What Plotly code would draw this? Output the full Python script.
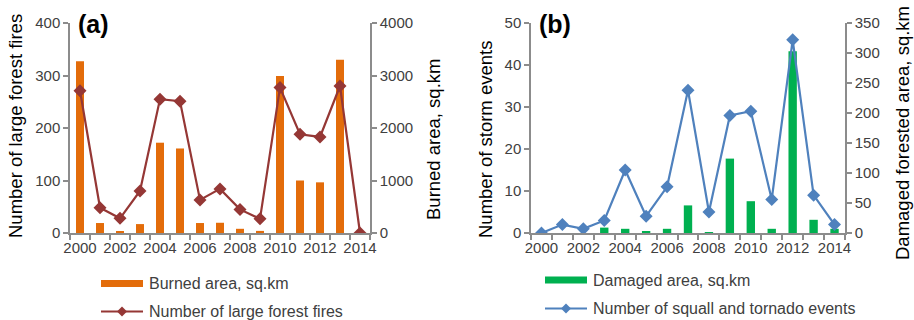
import plotly.graph_objects as go

# ---- data ---------------------------------------------------------------
years = list(range(2000, 2015))

# (a) forest fires
burned_area = [3270, 190, 30, 170, 1720, 1610, 190, 195, 80, 40, 2990, 1000, 965, 3300, 0]
large_fires = [271, 48, 28, 80, 255, 251, 63, 84, 45, 27, 277, 188, 183, 280, 0]

# (b) storms
damaged_area = [0, 0, 0, 9, 7, 3, 7, 46, 1, 124, 53, 7, 303, 22, 7]
storm_events = [0, 2, 1, 3, 15, 4, 11, 34, 5, 28, 29, 8, 46, 9, 2]

year_labels = [str(y) for y in range(2000, 2015, 2)]

legend_a = ["Burned area, sq.km", "Number of large forest fires"]
legend_b = ["Damaged area, sq.km", "Number of squall and tornado events"]

ORANGE = "#E36C0A"
DARKRED = "#953735"
GREEN = "#00B050"
BLUE = "#4F81BD"
AXIS = "#8C8C8C"
FONT = "Liberation Sans, Arial"
TICKFONT = dict(family=FONT, size=15, color="#404040")

W, H = 914, 320


def px(x):
    return x / W


def py(y):
    return (H - y) / H


fig = go.Figure()

# ---- panel (a): bars on the right-hand axis, line on the left-hand one ----
fig.add_trace(go.Bar(x=years, y=burned_area, width=0.4, marker_color=ORANGE,
                     marker_line_width=0, xaxis="x", yaxis="y", name=legend_a[0]))
fig.add_trace(go.Scatter(x=years, y=large_fires, mode="lines+markers", name=legend_a[1],
                         line=dict(color=DARKRED, width=2.2),
                         marker=dict(symbol="diamond", size=10, color=DARKRED),
                         xaxis="x", yaxis="y2"))

# ---- panel (b) -----------------------------------------------------------
fig.add_trace(go.Bar(x=years, y=damaged_area, width=0.4, marker_color=GREEN,
                     marker_line_width=0, xaxis="x2", yaxis="y3", name=legend_b[0]))
fig.add_trace(go.Scatter(x=years, y=storm_events, mode="lines+markers", name=legend_b[1],
                         line=dict(color=BLUE, width=2.2),
                         marker=dict(symbol="diamond", size=10, color=BLUE),
                         xaxis="x2", yaxis="y4"))


def xaxis(domain, anchor):
    return dict(domain=domain, anchor=anchor, range=[1999.5, 2014.5],
                tickmode="array", tickvals=list(range(2000, 2015, 2)),
                ticktext=year_labels, ticks="", tickfont=TICKFONT,
                showline=True, linecolor=AXIS, linewidth=1.5, showgrid=False,
                zeroline=False, fixedrange=True, automargin=False,
                minor=dict(tick0=1999.5, dtick=1, ticks="outside", ticklen=5,
                           tickcolor=AXIS, tickwidth=1.5, showgrid=False))


def yaxis(side, rng, dtick, anchor, overlaying=None):
    d = dict(side=side, range=rng, dtick=dtick, anchor=anchor, domain=[py(233), py(23)],
             ticks="outside", ticklen=5, tickcolor=AXIS, tickwidth=1.5,
             tickfont=TICKFONT, showline=True, linecolor=AXIS, linewidth=1.5,
             showgrid=False, zeroline=False, fixedrange=True, automargin=False)
    if overlaying:
        d["overlaying"] = overlaying
    return d


fig.update_layout(
    width=W, height=H,
    margin=dict(l=0, r=0, t=0, b=0),
    paper_bgcolor="white", plot_bgcolor="white",
    font=dict(family=FONT),
    showlegend=False,
    xaxis=xaxis([px(70), px(370)], "y"),
    yaxis=yaxis("right", [0, 4000], 1000, "x"),
    yaxis2=yaxis("left", [0, 400], 100, "x", overlaying="y"),
    xaxis2=xaxis([px(531), px(845)], "y3"),
    yaxis3=yaxis("right", [0, 350], 50, "x2"),
    yaxis4=yaxis("left", [0, 50], 10, "x2", overlaying="y3"),
)

annotations = [
    dict(text="<b>(a)</b>", x=px(76), y=py(24), xanchor="left", yanchor="middle",
         font=dict(size=25, color="black")),
    dict(text="<b>(b)</b>", x=px(537), y=py(24), xanchor="left", yanchor="middle",
         font=dict(size=25, color="black")),
]

# rotated axis titles, centred on the given point
for text, x, y in [("Number of large forest fires", 15, 126),
                   ("Burned area, sq.km", 433, 140),
                   ("Number of storm events", 485, 140),
                   ("Damaged forested area, sq.km", 902, 133)]:
    annotations.append(dict(text=text, x=px(x), y=py(y), textangle=-90,
                            xanchor="center", yanchor="middle",
                            font=dict(size=18.5, color="black")))

# ---- legends drawn under each panel: a thick bar swatch and a line+diamond swatch
shapes = []


def legend_block(x0, y_bar, y_line, bar_color, line_color, labels):
    x1 = x0 + 42
    shapes.append(dict(type="line", xref="paper", yref="paper",
                       x0=px(x0), x1=px(x1), y0=py(y_bar), y1=py(y_bar),
                       line=dict(color=bar_color, width=7)))
    shapes.append(dict(type="line", xref="paper", yref="paper",
                       x0=px(x0), x1=px(x1), y0=py(y_line), y1=py(y_line),
                       line=dict(color=line_color, width=2)))
    cx, r = x0 + 21, 5
    path = (f"M{px(cx - r)},{py(y_line)} L{px(cx)},{py(y_line - r)} "
            f"L{px(cx + r)},{py(y_line)} L{px(cx)},{py(y_line + r)} Z")
    shapes.append(dict(type="path", xref="paper", yref="paper", path=path,
                       fillcolor=line_color, line=dict(color=line_color, width=0)))
    for label, yy in zip(labels, (y_bar, y_line)):
        annotations.append(dict(text=label, x=px(x1 + 4), y=py(yy), xanchor="left",
                                yanchor="middle",
                                font=dict(size=16, color="#404040")))


legend_block(101, 283.5, 311.5, ORANGE, DARKRED, legend_a)
legend_block(545, 280, 308.5, GREEN, BLUE, legend_b)

for a in annotations:
    a.update(xref="paper", yref="paper", showarrow=False)
fig.update_layout(annotations=annotations, shapes=shapes)

fig.write_html("out.html")
